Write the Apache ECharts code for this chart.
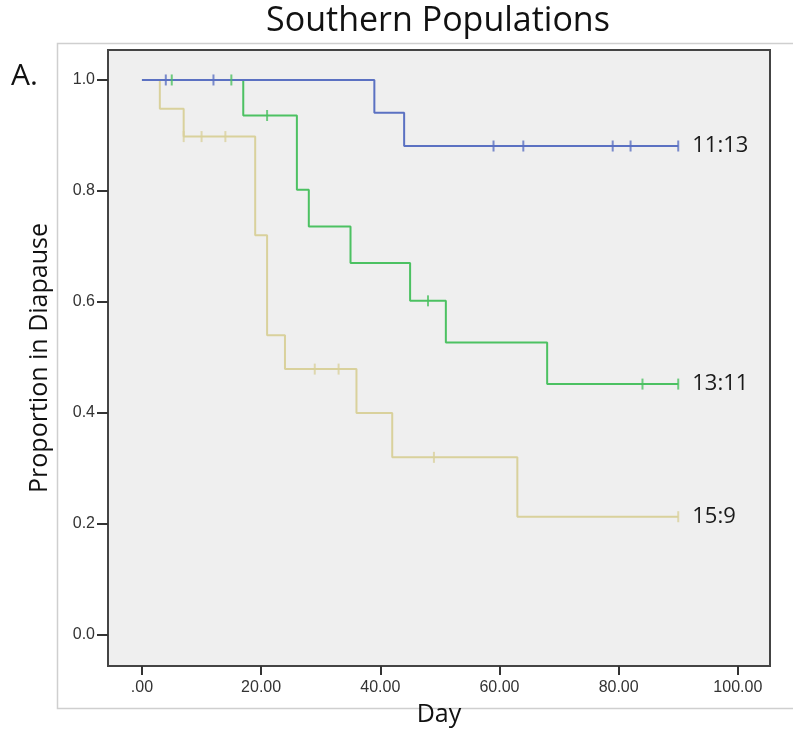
<!DOCTYPE html>
<html lang="en">
<head>
<meta charset="UTF-8">
<title>Southern Populations</title>
<style>
  html, body { margin: 0; padding: 0; background: #fff; }
  #main { width: 793px; height: 734px; }
</style>
</head>
<body>
<div id="main"></div>
<script src="https://cdn.jsdelivr.net/npm/echarts@6.0.0/dist/echarts.min.js"></script>
<script>
// step points: [day, proportion] where the curve drops
const blueSteps = [[0, 1.0], [39, 0.941], [44, 0.881], [90, 0.881]];
const greenSteps = [[0, 1.0], [17, 0.936], [26, 0.802], [28, 0.736], [35, 0.670], [45, 0.602], [51, 0.527], [68, 0.452], [90, 0.452]];
const tanSteps = [[0, 1.0], [3, 0.948], [7, 0.898], [19, 0.720], [21, 0.540], [24, 0.479], [36, 0.400], [42, 0.320], [63, 0.213], [90, 0.213]];

// censored observations
const blueCensor = [[4, 1.0], [12, 1.0], [59, 0.881], [64, 0.881], [79, 0.881], [82, 0.881], [90, 0.881]];
const greenCensor = [[5, 1.0], [15, 1.0], [21, 0.936], [48, 0.602], [84, 0.452], [90, 0.452]];
const tanCensor = [[7, 0.898], [10, 0.898], [14, 0.898], [29, 0.479], [33, 0.479], [49, 0.320], [90, 0.213]];

const groupNames = ['11:13', '13:11', '15:9'];
const xTicks = [0, 20, 40, 60, 80, 100];
const yTicks = [0, 0.2, 0.4, 0.6, 0.8, 1.0];

const colors = ['#5b71c2', '#4cc162', '#d9d19c'];
const tickFont = '"Liberation Sans", Arial';

const chart = echarts.init(document.getElementById('main'));

function stepSeries(data, color, name) {
  return {
    type: 'line',
    step: 'end',
    data: data,
    symbol: 'none',
    lineStyle: { color: color, width: 2 },
    z: 3,
    endLabel: {
      show: true,
      formatter: name,
      distance: 14,
      color: '#1a1a1a',
      fontSize: 22,
      fontFamily: 'Open Sans'
    },
    silent: true
  };
}

function censorSeries(data, color) {
  return {
    type: 'scatter',
    data: data,
    symbol: 'rect',
    symbolSize: [2, 11],
    itemStyle: { color: color },
    z: 4,
    silent: true
  };
}

const option = {
  animation: false,
  title: {
    text: 'Southern Populations',
    left: 433,
    top: -1,
    textAlign: 'center',
    textStyle: { fontFamily: 'Open Sans', fontSize: 34, fontWeight: 'normal', color: '#111' }
  },
  grid: {
    left: 108, right: 23, top: 50, bottom: 68,
    show: true,
    backgroundColor: '#efefef',
    borderColor: '#444',
    borderWidth: 2
  },
  xAxis: {
    type: 'value',
    min: -5.7,
    max: 105.4,
    name: 'Day',
    nameLocation: 'middle',
    nameGap: 36,
    nameTextStyle: { fontFamily: 'Open Sans', fontSize: 25, color: '#111' },
    axisLine: { show: false, onZero: false },
    splitLine: { show: false },
    axisTick: { show: true, customValues: xTicks, length: 9, lineStyle: { color: '#333', width: 2 } },
    axisLabel: {
      customValues: xTicks,
      formatter: v => v === 0 ? '.00' : v.toFixed(2),
      fontFamily: tickFont, fontSize: 16, color: '#333', margin: 14
    }
  },
  yAxis: {
    type: 'value',
    min: -0.056,
    max: 1.054,
    name: 'Proportion in Diapause',
    nameLocation: 'middle',
    nameGap: 56,
    nameTextStyle: { fontFamily: 'Open Sans', fontSize: 25, color: '#111' },
    axisLine: { show: false, onZero: false },
    splitLine: { show: false },
    axisTick: { show: true, customValues: yTicks, length: 11, lineStyle: { color: '#333', width: 2 } },
    axisLabel: {
      customValues: yTicks,
      formatter: v => v.toFixed(1),
      fontFamily: tickFont, fontSize: 16, color: '#333', margin: 13
    }
  },
  graphic: [
    {
      type: 'rect',
      shape: { x: 57.5, y: 43.5, width: 745, height: 665 },
      style: { fill: 'none', stroke: '#cfcfcf', lineWidth: 1.5 },
      z: -1
    },
    {
      type: 'text',
      left: 11,
      top: 61,
      style: { text: 'A.', font: '30px "Open Sans"', fill: '#111' }
    }
  ],
  series: [
    stepSeries(tanSteps, colors[2], groupNames[2]),
    stepSeries(greenSteps, colors[1], groupNames[1]),
    stepSeries(blueSteps, colors[0], groupNames[0]),
    censorSeries(tanCensor, colors[2]),
    censorSeries(greenCensor, colors[1]),
    censorSeries(blueCensor, colors[0])
  ]
};

chart.setOption(option);
</script>
</body>
</html>
